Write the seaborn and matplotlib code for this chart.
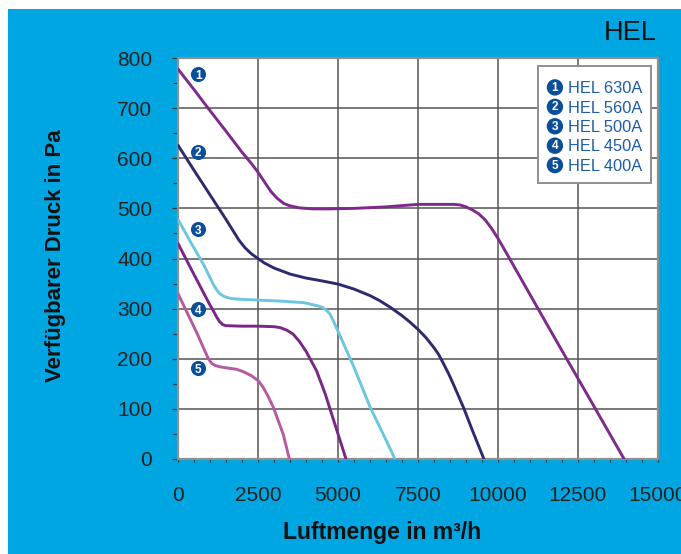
#!/usr/bin/env python3
"""
HEL fan curves: available static pressure against air flow for five sizes.
"""

import matplotlib

matplotlib.use("Agg")
import matplotlib.pyplot as plt  # noqa: E402
import pandas as pd  # noqa: E402
import seaborn as sns  # noqa: E402
from matplotlib.legend_handler import HandlerBase  # noqa: E402
from matplotlib.lines import Line2D  # noqa: E402
from matplotlib.patches import Circle, Rectangle  # noqa: E402
from matplotlib.text import Text  # noqa: E402
from matplotlib.ticker import MultipleLocator  # noqa: E402

# --- data --------------------------------------------------------------------
models = ["HEL 630A", "HEL 560A", "HEL 500A", "HEL 450A", "HEL 400A"]

flow_630 = [0, 500, 1000, 1500, 2000, 2300, 2500, 2700, 2900, 3100, 3300,
            3500, 3800, 4200, 4750, 5500, 6500, 7500, 8600, 8800, 9000,
            9200, 9400, 9600, 9800, 10000, 10200, 11000, 12000, 13000, 13940]
press_630 = [778, 737, 695, 654, 612, 589, 572, 553, 534, 520, 510,
             505, 501, 499, 499, 500, 503, 508, 508, 507, 503,
             497, 489, 477, 460, 440, 418, 328, 216, 105, 0]

flow_560 = [0, 500, 1000, 1500, 1900, 2100, 2300, 2500, 2700, 3000, 3500,
            4000, 4440, 5000, 5500, 6000, 6300, 6625, 7000, 7250, 7510,
            7750, 8000, 8150, 8290, 8450, 8600, 8920, 9200, 9560]
press_560 = [626, 576, 527, 478, 437, 421, 409, 400, 391, 381, 369,
             361, 356, 349, 339, 326, 316, 303, 286, 273, 258,
             242, 222, 208, 191, 171, 150, 103, 57, 0]

flow_500 = [0, 400, 790, 1000, 1100, 1200, 1300, 1420, 1600, 1830, 2510,
            3200, 3920, 4200, 4400, 4530, 4650, 4750, 4850, 5000, 5500,
            6000, 6500, 6780]
press_500 = [478, 432, 389, 362, 349, 338, 330, 325, 321, 319, 317,
             315, 312, 308, 305, 302, 296, 289, 276, 255, 183,
             104, 38, 0]

flow_450 = [0, 500, 1000, 1100, 1200, 1300, 1400, 1500, 2000, 2500, 3000,
            3200, 3400, 3600, 3800, 4000, 4330, 4600, 4850, 5050, 5250]
press_450 = [430, 368, 307, 296, 284, 274, 268, 266, 265, 265, 264,
             262, 257, 249, 234, 215, 176, 130, 80, 40, 0]

flow_400 = [0, 300, 600, 850, 950, 1050, 1150, 1300, 1600, 1830, 2050,
            2300, 2510, 2650, 2800, 2980, 3290, 3480]
press_400 = [330, 290, 250, 214, 200, 191, 187, 184, 181, 179, 174,
             166, 156, 144, 127, 103, 49, 0]

# numbered badges next to the curves
badge_flow = [635, 635, 635, 635, 635]
badge_press = [768, 613, 458, 299, 181]

x_ticks = [0, 2500, 5000, 7500, 10000, 12500, 15000]
y_ticks = [0, 100, 200, 300, 400, 500, 600, 700, 800]

# --- styling -------------------------------------------------------------------
BG_BLUE = "#00a6e1"
BADGE_BLUE = "#0b4f9b"
LEGEND_TEXT = "#1d5ca6"
GRID = "#555555"
FRAME = "#8f8f8f"
line_colors = ["#7d2a8b", "#2d2b6d", "#6cc6de", "#7a2687", "#b65aa2"]

sns.set_style("white")
plt.rcParams["font.family"] = ["Liberation Sans", "DejaVu Sans"]


class BadgeHandler(HandlerBase):
    """Legend handle drawn as a filled circle with a white number."""

    def __init__(self, number):
        super().__init__()
        self.number = number

    def create_artists(self, legend, orig_handle, xdescent, ydescent,
                       width, height, fontsize, trans):
        cx = width / 2 - xdescent
        cy = height / 2 - ydescent
        circ = Circle((cx, cy), radius=5.9, facecolor=BADGE_BLUE,
                      edgecolor="none", transform=trans)
        txt = Text(cx, cy - 0.3, str(self.number), color="white", fontsize=8.5,
                   fontweight="bold", ha="center", va="center",
                   transform=trans)
        return [circ, txt]


def build_dataframe():
    series = [
        (flow_630, press_630),
        (flow_560, press_560),
        (flow_500, press_500),
        (flow_450, press_450),
        (flow_400, press_400),
    ]
    rows = []
    for model, (flows, presses) in zip(models, series):
        for q, p in zip(flows, presses):
            rows.append({"model": model, "flow": q, "pressure": p})
    return pd.DataFrame(rows)


def main():
    df = build_dataframe()

    fig = plt.figure(figsize=(6.81, 5.54), dpi=100, facecolor=BG_BLUE)
    # white margin strips of the scanned sheet
    fig.add_artist(Rectangle((0, 1 - 9 / 554), 1, 9 / 554,
                             transform=fig.transFigure, facecolor="white",
                             edgecolor="none"))
    fig.add_artist(Rectangle((0, 0), 8 / 681, 1, transform=fig.transFigure,
                             facecolor="white", edgecolor="none"))

    ax = fig.add_axes([178 / 681, 1 - 459 / 554, 480 / 681, 401 / 554])
    ax.set_facecolor("white")

    sns.lineplot(
        data=df,
        x="flow",
        y="pressure",
        hue="model",
        hue_order=models,
        palette=dict(zip(models, line_colors)),
        sort=False,
        estimator=None,
        linewidth=2.1,
        legend=False,
        ax=ax,
        zorder=3,
    )
    for line in ax.lines:
        line.set_solid_joinstyle("round")

    # badges on the curves
    ax.scatter(badge_flow, badge_press, s=118, color=BADGE_BLUE, zorder=4,
               linewidths=0)
    for i, (bx, by) in enumerate(zip(badge_flow, badge_press)):
        ax.text(bx, by - 3, str(i + 1), color="white", fontsize=8.5,
                fontweight="bold", ha="center", va="center", zorder=5)

    ax.set_xlim(0, 15000)
    ax.set_ylim(0, 800)
    ax.set_xticks(x_ticks)
    ax.set_yticks(y_ticks)
    ax.xaxis.set_minor_locator(MultipleLocator(500))
    ax.yaxis.set_minor_locator(MultipleLocator(50))

    ax.grid(which="major", color=GRID, linewidth=1.1)
    ax.set_axisbelow(True)
    for spine in ax.spines.values():
        spine.set_color(FRAME)
        spine.set_linewidth(1.6)

    ax.tick_params(axis="y", which="major", direction="out", length=4.5,
                   width=0.9, color="#333333", pad=14, labelsize=15,
                   labelcolor="#222222", left=True)
    ax.tick_params(axis="y", which="minor", direction="out", length=3.5,
                   width=0.9, color="#333333", left=True)
    ax.tick_params(axis="x", which="major", direction="out", length=2.5,
                   width=0.9, color="#333333", pad=17, labelsize=15,
                   labelcolor="#222222", bottom=True)
    ax.tick_params(axis="x", which="minor", direction="out", length=2.5,
                   width=0.9, color="#333333", bottom=True)

    ax.set_xlabel("Luftmenge in m³/h", fontsize=16.5, fontweight="bold",
                  color="#111111")
    ax.set_ylabel("Verfügbarer Druck in Pa", fontsize=16, fontweight="bold",
                  color="#111111")
    ax.xaxis.set_label_coords(0.425, -0.155)
    ax.yaxis.set_label_coords(-0.234, 0.507)

    # legend box: frame drawn separately so it can be taller than the rows
    box_x0, box_x1 = (538 - 178) / 480, (651 - 178) / 480
    box_y0, box_y1 = (459 - 183) / 401, (459 - 66) / 401
    ax.add_patch(Rectangle((box_x0, box_y0), box_x1 - box_x0, box_y1 - box_y0,
                           transform=ax.transAxes, facecolor="white",
                           edgecolor=FRAME, linewidth=1.4, zorder=6))

    handles = [Line2D([], []) for _ in models]
    leg = ax.legend(
        handles,
        models,
        handler_map={h: BadgeHandler(i + 1) for i, h in enumerate(handles)},
        loc="center",
        bbox_to_anchor=((box_x0 + box_x1) / 2,
                        (box_y0 + box_y1) / 2 - 3 / 401),
        borderaxespad=0,
        fontsize=11.8,
        labelcolor=LEGEND_TEXT,
        frameon=False,
        handlelength=1.05,
        handletextpad=0.3,
        labelspacing=0.27,
        borderpad=0.3,
    )
    leg.set_zorder(7)

    fig.text(657 / 681, 1 - 33 / 554, "HEL", ha="right", va="center",
             fontsize=19.5, color="#111111")

    fig.savefig("out.png", dpi=100, facecolor=fig.get_facecolor())


if __name__ == "__main__":
    main()
